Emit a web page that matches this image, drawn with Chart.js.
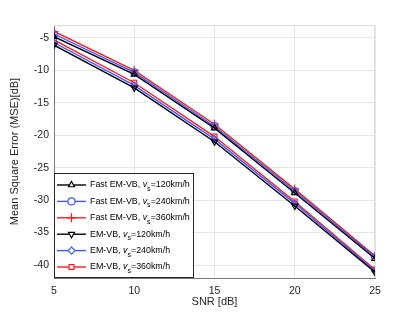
<!DOCTYPE html>
<html>
<head>
<meta charset="utf-8">
<script src="https://cdn.jsdelivr.net/npm/chart.js@4/dist/chart.umd.min.js"></script>
<style>
  html, body { margin: 0; padding: 0; background: #fff; }
  #wrap { width: 415px; height: 313px; }
</style>
</head>
<body>
<div id="wrap"><canvas id="mse-chart"></canvas></div>
<script>
// Data
var snr = [5, 10, 15, 20, 25];
var fast120 = [-4.8, -10.6, -18.9, -28.9, -39.0];
var fast240 = [-4.4, -10.3, -18.6, -28.6, -38.8];
var fast360 = [-4.0, -10.0, -18.3, -28.3, -38.6];
var em120 = [-6.1, -12.7, -21.0, -30.9, -41.1];
var em240 = [-5.7, -12.3, -20.6, -30.5, -40.9];
var em360 = [-5.3, -11.9, -20.2, -30.2, -40.7];
var xTicks = [5, 10, 15, 20, 25];
var yTicks = [-40, -35, -30, -25, -20, -15, -10, -5];
var labels = [
  ["Fast EM-VB, ", "120km/h"],
  ["Fast EM-VB, ", "240km/h"],
  ["Fast EM-VB, ", "360km/h"],
  ["EM-VB, ", "120km/h"],
  ["EM-VB, ", "240km/h"],
  ["EM-VB, ", "360km/h"]
];

var BLACK = '#000000', BLUE = '#3a5cff', RED = '#ff1a1a';
var FONT = '"Liberation Sans", Arial, sans-serif';

function pts(arr) {
  return arr.map(function (v, i) { return { x: snr[i], y: v }; });
}

function series(i, data, color, style, rot) {
  return {
    label: labels[i].join(''),
    data: pts(data),
    borderColor: color,
    backgroundColor: 'rgba(0,0,0,0)',
    borderWidth: 1.4,
    pointStyle: style,
    pointRotation: rot || 0,
    pointRadius: style === 'cross' ? 4.5 : 3.5,
    pointBorderColor: color,
    pointBorderWidth: 1.2,
    pointBackgroundColor: 'rgba(0,0,0,0)',
    tension: 0
  };
}

var datasets = [
  series(0, fast120, BLACK, 'triangle'),
  series(1, fast240, BLUE, 'circle'),
  series(2, fast360, RED, 'cross'),
  series(3, em120, BLACK, 'triangle', 180),
  series(4, em240, BLUE, 'rectRot'),
  series(5, em360, RED, 'rect')
];

// legend box drawn like the MATLAB one (italic v, subscript s)
var legendBox = {
  id: 'legendBox',
  afterDraw: function (chart) {
    var ctx = chart.ctx;
    var area = chart.chartArea;
    var x0 = area.left, y1 = area.bottom;
    var w = 140, h = 105, y0 = y1 - h;
    ctx.save();
    // pick a font size so the longest entry spans ~100px, as in the figure
    ctx.font = '10px ' + FONT;
    var longest = ctx.measureText(labels[0][0] + 'v=' + labels[0][1]).width;
    ctx.font = '8px ' + FONT;
    longest += ctx.measureText('s').width;
    var fs = Math.min(10.5, 10 * 100 / longest);

    ctx.fillStyle = '#fff';
    ctx.fillRect(x0, y0, w, h);
    ctx.strokeStyle = '#262626';
    ctx.lineWidth = 1;
    ctx.strokeRect(x0 + 0.5, y0 + 0.5, w - 1, h - 1);
    chart.data.datasets.forEach(function (ds, i) {
      var y = y0 + 12 + i * 16.4;
      ctx.strokeStyle = ds.borderColor;
      ctx.lineWidth = ds.borderWidth;
      ctx.beginPath();
      ctx.moveTo(x0 + 3, y);
      ctx.lineTo(x0 + 32, y);
      ctx.stroke();
      ctx.fillStyle = '#fff';
      ctx.lineWidth = ds.pointBorderWidth;
      Chart.helpers.drawPoint(ctx, {
        pointStyle: ds.pointStyle,
        rotation: ds.pointRotation,
        radius: ds.pointRadius,
        borderWidth: ds.pointBorderWidth
      }, x0 + 17.5, y);
      ctx.fillStyle = '#000';
      ctx.textBaseline = 'middle';
      ctx.textAlign = 'left';
      var tx = x0 + 36;
      ctx.font = fs + 'px ' + FONT;
      ctx.fillText(labels[i][0], tx, y);
      tx += ctx.measureText(labels[i][0]).width;
      ctx.font = 'italic ' + fs + 'px ' + FONT;
      ctx.fillText('v', tx, y);
      tx += ctx.measureText('v').width;
      ctx.font = (fs * 0.8) + 'px ' + FONT;
      ctx.fillText('s', tx, y + 4);
      tx += ctx.measureText('s').width;
      ctx.font = fs + 'px ' + FONT;
      ctx.fillText('=' + labels[i][1], tx, y);
    });
    ctx.restore();
  }
};

// top/right frame lines
var frame = {
  id: 'frame',
  beforeDatasetsDraw: function (chart) {
    var ctx = chart.ctx, a = chart.chartArea;
    ctx.save();
    ctx.strokeStyle = '#dcdcdc';
    ctx.lineWidth = 1;
    ctx.beginPath();
    ctx.moveTo(a.left, a.top + 0.5);
    ctx.lineTo(a.right - 0.5, a.top + 0.5);
    ctx.lineTo(a.right - 0.5, a.bottom);
    ctx.stroke();
    ctx.restore();
  }
};

var ctx = document.getElementById('mse-chart');

var chartOptions = {
  responsive: true,
  maintainAspectRatio: false,
  animation: false,
  layout: { padding: { top: 25, right: 40, left: 8, bottom: 4 } },
  plugins: {
    legend: { display: false },
    tooltip: { enabled: false }
  },
  scales: {
    x: {
      type: 'linear',
      min: 5,
      max: 25,
      afterBuildTicks: function (axis) {
        axis.ticks = xTicks.map(function (v) { return { value: v }; });
      },
      afterFit: function (axis) { axis.height = 31; },
      grid: { color: '#e6e6e6', drawTicks: false, tickLength: 0 },
      border: { color: '#7a7a7a', width: 1 },
      ticks: { color: '#262626', font: { family: FONT, size: 10.5 }, padding: 7, maxRotation: 0 },
      title: { display: true, text: 'SNR [dB]', color: '#262626', font: { family: FONT, size: 11 }, padding: { top: 1, bottom: 0 } }
    },
    y: {
      type: 'linear',
      min: -42,
      max: -3,
      afterBuildTicks: function (axis) {
        axis.ticks = yTicks.map(function (v) { return { value: v }; });
      },
      afterFit: function (axis) { axis.width = 46; },
      grid: { color: '#e6e6e6', drawTicks: false, tickLength: 0 },
      border: { color: '#7a7a7a', width: 1 },
      ticks: { color: '#262626', font: { family: FONT, size: 10.5 }, padding: 5 },
      title: { display: true, text: 'Mean Square Error (MSE)[dB]', color: '#262626', font: { family: FONT, size: 11 }, padding: { top: 0, bottom: 4 } }
    }
  }
};

var config = {
  type: 'line',
  data: { datasets: datasets },
  options: chartOptions,
  plugins: [frame, legendBox]
};

var mseChart = new Chart(ctx, config);
</script>
</body>
</html>
